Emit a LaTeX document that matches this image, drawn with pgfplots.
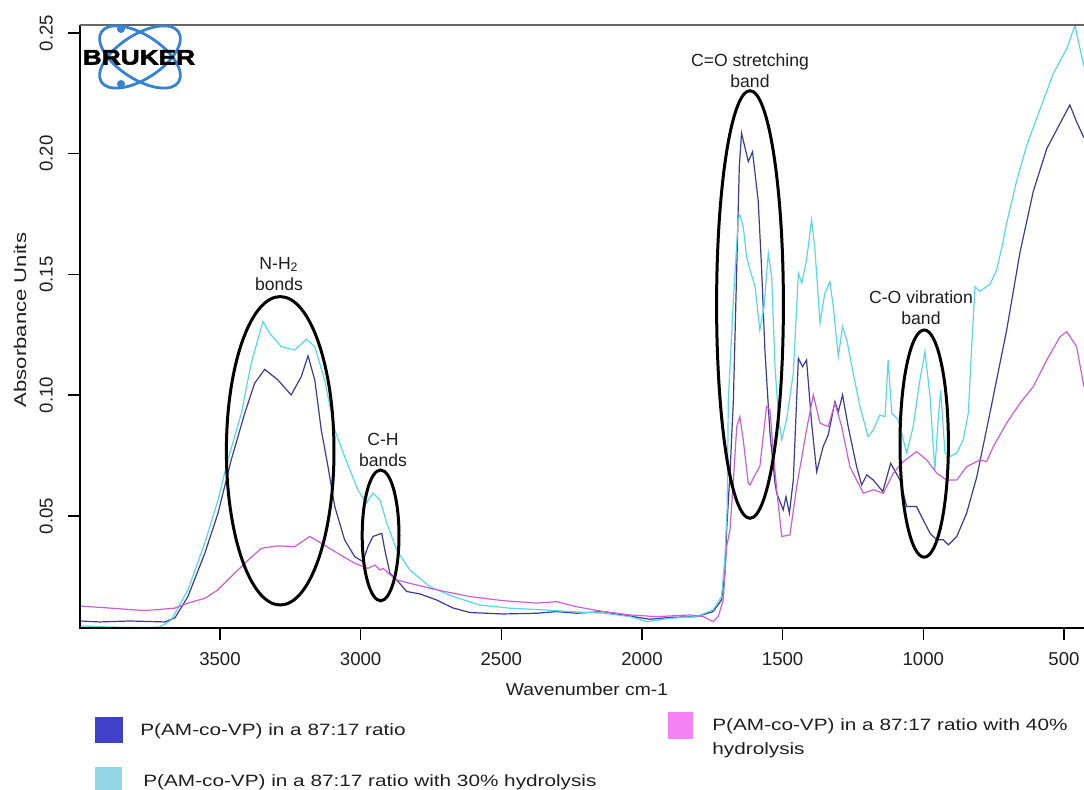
\documentclass[border=0pt]{standalone}
\usepackage{fontspec}
\setmainfont{Liberation Sans}
\newfontfamily\widefont[FakeStretch=1.3]{Liberation Sans}
\newfontfamily\legfont[FakeStretch=1.265]{Liberation Sans}
\newfontfamily\labfont[FakeStretch=1.12]{Liberation Sans}
\newfontfamily\logofont[FakeStretch=1.25,FakeBold=2.5]{Liberation Sans}
\usepackage{pgfplots}
\usepackage{pgfplotstable}
\pgfplotsset{compat=1.18}
\definecolor{sA}{RGB}{62,58,150}
\definecolor{sB}{RGB}{85,218,228}
\definecolor{sC}{RGB}{200,95,210}
\definecolor{lgA}{RGB}{64,64,200}
\definecolor{lgB}{RGB}{150,215,230}
\definecolor{lgC}{RGB}{245,130,245}
\definecolor{logoblue}{RGB}{55,130,210}
\definecolor{txt}{RGB}{30,30,30}

\pgfplotstableread{
w v
3998 0.0065
3927 0.0061
3820 0.0065
3696 0.0061
3660 0.0078
3614 0.0166
3554 0.0345
3507 0.0511
3460 0.0732
3412 0.0925
3377 0.1049
3341 0.1107
3294 0.1063
3247 0.1001
3211 0.1077
3187 0.1163
3163 0.1063
3140 0.0856
3116 0.0704
3092 0.0539
3057 0.0401
3021 0.0331
2992 0.0311
2974 0.0373
2956 0.0415
2925 0.0428
2914 0.0359
2896 0.0263
2872 0.0235
2836 0.0187
2789 0.0177
2730 0.0152
2672 0.0119
2611 0.0100
2494 0.0094
2374 0.0097
2303 0.0104
2232 0.0097
2139 0.0104
2068 0.0090
1972 0.0072
1900 0.0080
1806 0.0083
1747 0.0104
1717 0.0152
1705 0.0264
1699 0.0442
1687 0.0678
1675 0.0980
1663 0.1532
1654 0.1946
1646 0.2085
1622 0.1967
1607 0.2008
1587 0.1808
1575 0.1532
1563 0.1187
1545 0.0842
1527 0.0635
1521 0.0594
1498 0.0525
1488 0.0580
1476 0.0511
1462 0.0649
1444 0.1153
1429 0.1118
1415 0.1146
1397 0.0884
1379 0.0683
1356 0.0787
1338 0.0835
1314 0.0973
1302 0.0932
1287 0.1001
1267 0.0870
1237 0.0704
1219 0.0628
1201 0.0670
1178 0.0649
1144 0.0601
1116 0.0718
1083 0.0649
1059 0.0539
1024 0.0539
1000 0.0483
976 0.0428
952 0.0401
929 0.0401
911 0.0380
881 0.0415
846 0.0511
810 0.0661
763 0.0927
704 0.1267
656 0.1593
609 0.1844
561 0.2021
514 0.2125
479 0.2202
455 0.2132
429 0.2066
}\dataA

\pgfplotstableread{
w v
3998 0.0045
3891 0.0040
3767 0.0038
3713 0.0040
3673 0.0069
3614 0.0194
3554 0.0387
3507 0.0566
3472 0.0732
3424 0.0925
3389 0.1132
3359 0.1256
3347 0.1305
3323 0.1256
3282 0.1201
3234 0.1187
3193 0.1232
3163 0.1201
3128 0.1063
3092 0.0856
3057 0.0746
3010 0.0608
2980 0.0553
2956 0.0594
2931 0.0566
2907 0.0470
2872 0.0359
2825 0.0276
2754 0.0207
2671 0.0166
2576 0.0131
2469 0.0118
2351 0.0111
2256 0.0104
2137 0.0097
2042 0.0083
1983 0.0062
1900 0.0076
1806 0.0083
1747 0.0111
1717 0.0166
1705 0.0331
1697 0.0539
1693 0.0980
1675 0.1394
1658 0.1726
1652 0.1746
1640 0.1698
1628 0.1574
1616 0.1519
1598 0.1449
1581 0.1270
1566 0.1367
1551 0.1588
1539 0.1491
1527 0.1118
1515 0.0911
1503 0.0815
1486 0.0898
1462 0.1091
1444 0.1505
1432 0.1463
1415 0.1560
1397 0.1726
1385 0.1601
1367 0.1298
1350 0.1422
1332 0.1470
1320 0.1367
1302 0.1160
1287 0.1284
1272 0.1229
1249 0.1091
1225 0.0953
1196 0.0828
1178 0.0856
1154 0.0918
1136 0.0911
1125 0.1146
1112 0.0925
1089 0.0898
1083 0.0870
1059 0.0760
1036 0.0870
1012 0.1063
994 0.1180
976 0.0994
959 0.0690
947 0.0898
938 0.1022
923 0.0760
905 0.0746
881 0.0760
858 0.0815
840 0.0925
828 0.1201
816 0.1449
799 0.1430
763 0.1459
739 0.1519
716 0.1637
704 0.1711
668 0.1888
632 0.2036
585 0.2184
538 0.2332
490 0.2435
461 0.2531
443 0.2435
429 0.2362
}\dataB

\pgfplotstableread{
w v
3998 0.0127
3886 0.0118
3768 0.0108
3661 0.0118
3614 0.0139
3554 0.0159
3507 0.0194
3460 0.0249
3412 0.0304
3353 0.0366
3294 0.0376
3234 0.0373
3181 0.0415
3140 0.0387
3081 0.0345
3021 0.0304
2974 0.0283
2949 0.0297
2931 0.0276
2920 0.0283
2902 0.0263
2872 0.0235
2825 0.0221
2730 0.0194
2611 0.0166
2493 0.0149
2374 0.0139
2303 0.0145
2232 0.0124
2138 0.0104
2042 0.0090
1948 0.0083
1829 0.0090
1782 0.0083
1747 0.0062
1729 0.0083
1711 0.0152
1699 0.0373
1687 0.0442
1675 0.0649
1663 0.0870
1652 0.0911
1640 0.0815
1622 0.0635
1616 0.0628
1598 0.0670
1581 0.0704
1557 0.0953
1545 0.0939
1533 0.0760
1520 0.0595
1503 0.0415
1474 0.0421
1450 0.0621
1415 0.0856
1391 0.1001
1367 0.0884
1338 0.0870
1314 0.0967
1290 0.0870
1261 0.0704
1213 0.0594
1178 0.0608
1142 0.0594
1107 0.0677
1071 0.0725
1024 0.0766
988 0.0732
952 0.0677
917 0.0649
881 0.0649
846 0.0704
822 0.0718
799 0.0732
775 0.0725
751 0.0787
704 0.0884
656 0.0967
609 0.1035
561 0.1146
514 0.1242
490 0.1263
455 0.1201
429 0.1035
}\dataC

\begin{document}
\begin{tikzpicture}
\useasboundingbox (-40pt,-81pt) rectangle (502pt,314pt);
\begin{axis}[
  at={(0,0)}, anchor=south west,
  scale only axis, width=502pt, height=301.5pt,
  x dir=reverse,
  xmin=428.8, xmax=3997.6, ymin=0.0036, ymax=0.2533,
  axis line style={draw=none},
  xtick pos=bottom, ytick pos=left,
  tick align=outside,
  major tick length=6pt,
  tick style={black, line width=0.7pt},
  xtick={500,1000,1500,2000,2500,3000,3500},
  xticklabels={500,1000,1500,2000,2500,3000,3500},
  ytick={0.05,0.10,0.15,0.20,0.25},
  yticklabels={0.05,0.10,0.15,0.20,0.25},
  /pgf/number format/assume math mode=true,
  ticklabel style={font=\fontsize{9.3}{11}\selectfont, text=txt},
  xticklabel shift=2.5pt,
  yticklabel style={rotate=90, anchor=south},
  yticklabel shift=4pt,
  clip=true,
]
\addplot[sA, line width=0.6pt] table[x=w,y=v]{\dataA};
\addplot[sB, line width=0.6pt] table[x=w,y=v]{\dataB};
\addplot[sC, line width=0.6pt] table[x=w,y=v]{\dataC};
\end{axis}
% axis frame (no right edge, as in the reference)
\draw[black, line width=0.8pt] (0,301.5pt) -- (0,0) -- (502pt,0);
\draw[black!60, line width=0.9pt] (0,301.5pt) -- (502pt,301.5pt);
% axis labels
\node[font=\labfont\fontsize{8.6}{10}\selectfont, text=txt] at (253.5pt,-30.5pt) {Wavenumber cm-1};
\node[font=\widefont\fontsize{8.5}{10}\selectfont, text=txt, rotate=90] at (-30pt,154pt) {Absorbance Units};
% annotations
\begin{scope}[line width=1.5pt, black]
\draw (100.1pt,88.6pt) ellipse [x radius=26.9pt, y radius=77.1pt];
\draw (150.3pt,46.3pt) ellipse [x radius=9.2pt, y radius=32.7pt];
\draw (335pt,161.75pt) ellipse [x radius=16.7pt, y radius=106.9pt];
\draw (422.1pt,92.2pt) ellipse [x radius=12.1pt, y radius=56.8pt];
\end{scope}
\begin{scope}[every node/.style={align=center, inner sep=0pt, text=txt, font=\fontsize{8.8}{10.5}\selectfont}]
\node at (99.5pt,177pt) {N-H\textsubscript{2}\\bonds};
\node at (151.5pt,89pt) {C-H\\bands};
\node at (335pt,278.5pt) {C=O stretching\\band};
\node at (420.5pt,160pt) {C-O vibration\\band};
\end{scope}
% logo
\draw[logoblue, line width=1.4pt, rotate around={33:(30pt,285.5pt)}] (30pt,285.5pt) ellipse [x radius=23pt, y radius=11pt];
\draw[logoblue, line width=1.4pt, rotate around={-33:(30pt,285.5pt)}] (30pt,285.5pt) ellipse [x radius=23pt, y radius=11pt];
\fill[logoblue] (20.5pt,299.5pt) circle (2pt);
\fill[logoblue] (20.5pt,272pt) circle (2pt);
\node[font=\logofont\bfseries\fontsize{10.5}{12}\selectfont, inner sep=0pt] at (29.5pt,285.3pt) {BRUKER};
% legend
\fill[lgA] (7.5pt,-44.5pt) rectangle (21.35pt,-57.5pt);
\fill[lgB] (7.5pt,-69.5pt) rectangle (21pt,-83pt);
\fill[lgC] (294pt,-42pt) rectangle (306.5pt,-55.5pt);
\begin{scope}[every node/.style={anchor=base west, inner sep=0pt, text=txt, font=\legfont\fontsize{8.2}{9.5}\selectfont}]
\node at (30pt,-54pt) {P(AM-co-VP) in a 87:17 ratio};
\node at (31.5pt,-79.5pt) {P(AM-co-VP) in a 87:17 ratio with 30\% hydrolysis};
\node at (316pt,-51.35pt) {P(AM-co-VP) in a 87:17 ratio with 40\%};
\node at (316pt,-63.5pt) {hydrolysis};
\end{scope}
\end{tikzpicture}
\end{document}
